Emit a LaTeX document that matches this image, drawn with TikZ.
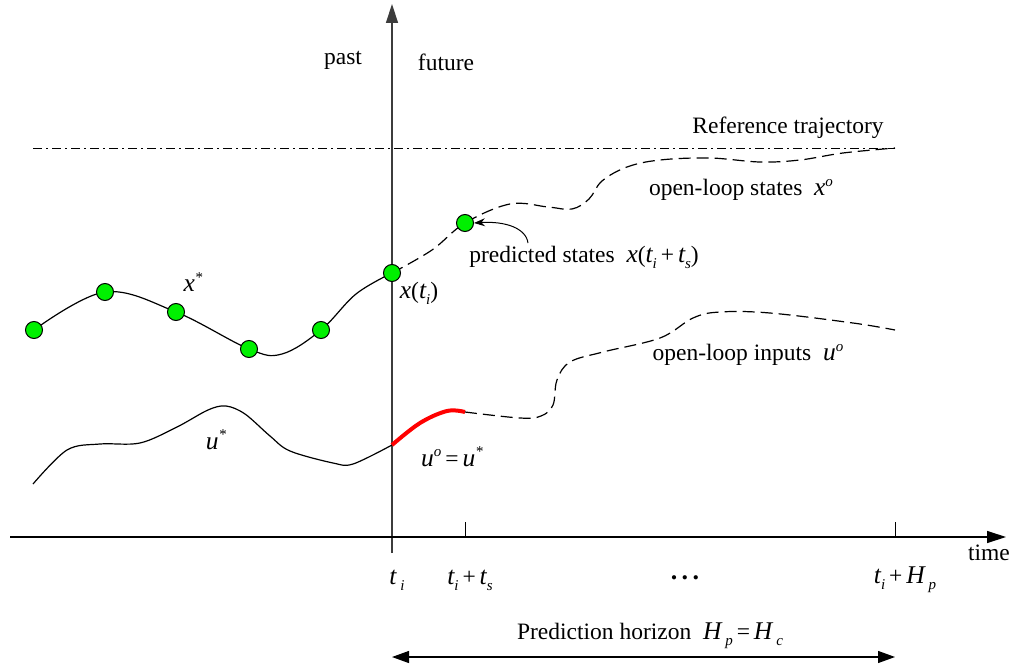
\documentclass[tikz,border=0pt]{standalone}
\usepackage{fontspec}
\setmainfont{Liberation Serif}
\usetikzlibrary{arrows.meta}
\definecolor{ptgreen}{RGB}{0,240,0}
\definecolor{axgray}{RGB}{60,60,60}
\newcommand\vr[1]{{\fontsize{25.5}{27}\selectfont\itshape #1}}
\newcommand\sbs[1]{\raisebox{-0.55ex}{\fontsize{15}{15}\selectfont\itshape #1}}
\newcommand\spr[1]{\raisebox{0.9ex}{\fontsize{15}{15}\selectfont\itshape #1}}
\begin{document}
\begin{tikzpicture}[x=1pt,y=-1pt,
  lbl/.style={font=\fontsize{23.5}{27}\selectfont, inner sep=0pt},
  curve/.style={line width=1.2pt},
  dashcurve/.style={line width=1.2pt, dash pattern=on 12pt off 6pt},
  refline/.style={line width=1pt, dash pattern=on 9pt off 4pt on 2pt off 4pt},
  axis/.style={line width=1.4pt, draw=axgray},
  redcurve/.style={line width=4pt, draw=red},
  dot/.style={circle, draw, fill=ptgreen, minimum size=17pt, inner sep=0pt, line width=1pt},
  bigarrow/.style={-{Triangle[length=19pt,width=12pt]}},
  horarrow/.style={{Triangle[length=17pt,width=12pt]}-{Triangle[length=17pt,width=12pt]}, line width=1.2pt}
]
\useasboundingbox (0,0) rectangle (1012,669);

% axes
\coordinate (vb) at (392,553);
\coordinate (vt) at (392,4);
\coordinate (hl) at (10,537);
\coordinate (hr) at (1006,537);
\draw[axis,bigarrow] (vb) -- (vt);
\draw[axis,line width=1.2pt,draw=black,bigarrow] (hl) -- (hr);

% ticks
\coordinate (t1a) at (465,522); \coordinate (t1b) at (465,537);
\coordinate (t2a) at (895,522); \coordinate (t2b) at (895,537);
\draw[line width=1pt] (t1a) -- (t1b);
\draw[line width=1pt] (t2a) -- (t2b);

% reference trajectory
\coordinate (rl) at (33,148);
\coordinate (rr) at (895,148);
\draw[refline] (rl) -- (rr);

% x* curve
\draw[curve] plot[smooth,tension=0.6] coordinates {(34,330) (105,292) (176,312) (249,349) (282,354) (321,330) (356,294) (392,273)};
% x^o dashed
\draw[dashcurve] plot[smooth,tension=0.6] coordinates {(392,273) (432,250) (465,223) (510,204) (548,207) (572,209) (589,199) (602,181) (627,167) (660,160) (710,158) (760,162) (800,160) (843,153) (895,148)};

% u* curve
\draw[curve] plot[smooth,tension=0.55] coordinates {(33,484) (67,450) (100,444) (140,443) (177,427) (208,410) (226,406) (245,414) (270,436) (290,451) (333,463) (353,464) (392,445)};
% red part
\draw[redcurve] plot[smooth,tension=0.6] coordinates {(392,445) (420,423) (447,411) (465,412)};
% u^o dashed
\draw[dashcurve] plot[smooth,tension=0.6] coordinates {(465,412) (520,418) (541,416) (553,405) (557,380) (570,362) (603,352) (660,338) (693,318) (720,312) (770,313) (853,323) (895,330)};

% dots
\node[dot] (p1) at (34,330) {};
\node[dot] (p2) at (105,292) {};
\node[dot] (p3) at (176,312) {};
\node[dot] (p4) at (249,349) {};
\node[dot] (p5) at (321,330) {};
\node[dot] (p6) at (392,273) {};
\node[dot] (p7) at (465,223) {};

% annotation arrow
\coordinate (ann) at (528,243);
\draw[line width=1pt,-{Stealth[length=11pt,width=8pt]}] (ann) .. controls (526,228) and (505,221) .. (p7.east);

% labels
\node[lbl] (past) at (343,60) {past};
\node[lbl] (future) at (446,62) {future};
\node[lbl] (reftxt) at (788,128) {Reference trajectory};
\node[lbl] (olstates) at (741,190) {open-loop states\ \ \vr{x}\spr{o}};
\node[lbl] (pred) at (584,257) {predicted states\ \ \vr{x}(\vr{t}\sbs{i}\,+\,\vr{t}\sbs{s})};
\node[lbl] (xti) at (419,293) {\vr{x}(\vr{t}\sbs{i})};
\node[lbl] (xstar) at (193,282) {\vr{x}\spr{*}};
\node[lbl] (olinputs) at (748,355) {open-loop inputs\ \ \vr{u}\spr{o}};
\node[lbl] (ustar) at (216,440) {\vr{u}\spr{*}};
\node[lbl] (ueq) at (452,457) {\vr{u}\spr{o}\,=\,\vr{u}\spr{*}};

% time axis labels
\node[lbl] (time) at (989,553) {time};
\node[lbl] (lti) at (397,580) {\vr{t}\,\sbs{i}};
\node[lbl] (ltits) at (470,580) {\vr{t}\sbs{i}\,+\,\vr{t}\sbs{s}};
\node[lbl,font=\fontsize{26}{28}\selectfont\bfseries] (dots) at (685,578) {.\,.\,.};
\node[lbl] (ltihp) at (905,580) {\vr{t}\sbs{i}\,+\,\vr{H}\,\sbs{p}};
\node[lbl] (horiz) at (650,636) {Prediction horizon\ \ \vr{H}\,\sbs{p}\,=\,\vr{H}\,\sbs{c}};

% horizon arrow
\coordinate (ha) at (392,657);
\coordinate (hb) at (895,657);
\draw[horarrow] (ha) -- (hb);
\end{tikzpicture}
\end{document}
